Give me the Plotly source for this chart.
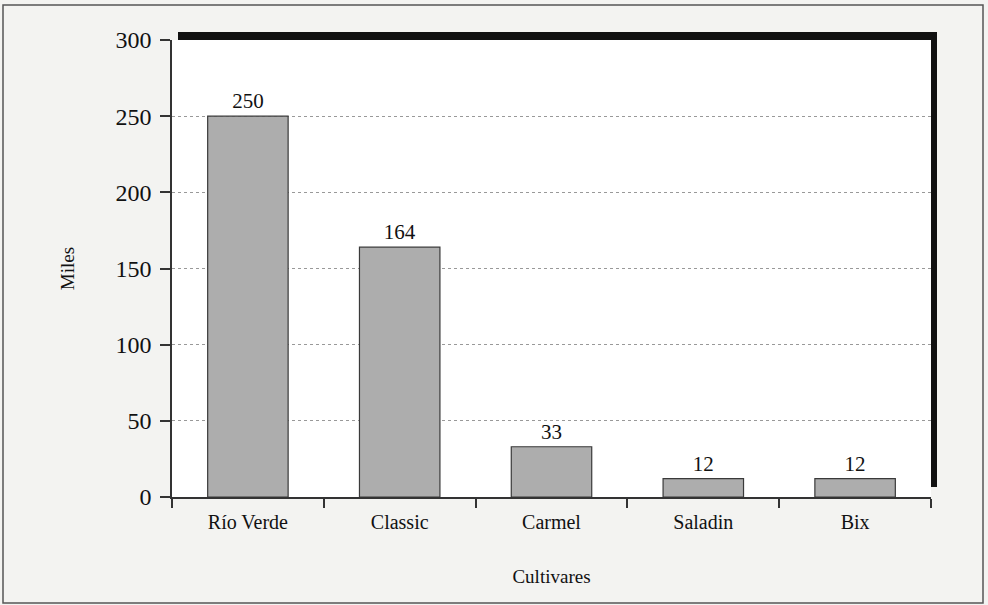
import plotly.graph_objects as go

categories = ["Río Verde", "Classic", "Carmel", "Saladin", "Bix"]
values = [250, 164, 33, 12, 12]
y_ticks = [0, 50, 100, 150, 200, 250, 300]

W, H = 988, 605
L, R, T, B = 172, 57, 40, 108
font_family = "Liberation Serif, Times New Roman, serif"

fig = go.Figure(go.Bar(
    x=categories, y=values,
    marker=dict(color="#adadad", line=dict(color="#3a3a3a", width=1.2)),
    text=[str(v) for v in values], textposition="outside",
    textfont=dict(family=font_family, size=21, color="#111"),
    cliponaxis=False, width=0.53,
))

pl, pr, pt, pb = L, W - R, T, H - B
pw, ph = pr - pl, pb - pt
shapes = [
    # outer frame
    dict(type="rect", xref="paper", yref="paper",
         x0=(3 - pl) / pw, x1=(983 - pl) / pw,
         y0=(pb - 603) / ph, y1=(pb - 5) / ph,
         line=dict(color="#555", width=1.5), fillcolor="rgba(0,0,0,0)", layer="below"),
    # shadow top bar
    dict(type="rect", xref="paper", yref="paper",
         x0=(178 - pl) / pw, x1=(937 - pl) / pw,
         y0=1.0, y1=(pb - 32) / ph,
         line=dict(width=0), fillcolor="#111"),
    # shadow right bar
    dict(type="rect", xref="paper", yref="paper",
         x0=1.0, x1=(937 - pl) / pw,
         y0=(pb - 487) / ph, y1=(pb - 32) / ph,
         line=dict(width=0), fillcolor="#111"),
]

fig.update_layout(
    width=W, height=H,
    margin=dict(l=L, r=R, t=T, b=B, autoexpand=False),
    paper_bgcolor="#f3f3f1", plot_bgcolor="#ffffff",
    font=dict(family=font_family, color="#111"),
    showlegend=False,
    shapes=shapes,
    xaxis=dict(
        title=dict(text="Cultivares", font=dict(size=19), standoff=38),
        tickfont=dict(size=20), ticklabelstandoff=6,
        showline=True, linecolor="#333", linewidth=1.5,
        ticks="outside", tickson="boundaries", ticklen=9, tickcolor="#333", tickwidth=1.5,
        showgrid=False,
    ),
    yaxis=dict(
        title=dict(text="Miles", font=dict(size=19), standoff=36),
        range=[0, 300], tickvals=y_ticks, tickfont=dict(size=24), ticklabelstandoff=4,
        showline=True, linecolor="#333", linewidth=1.5,
        ticks="outside", ticklen=10, tickcolor="#333", tickwidth=1.5,
        showgrid=True, gridcolor="#999999", gridwidth=1, griddash="dot",
        zeroline=False,
    ),
)

fig.write_html("out.html", config={"displayModeBar": False},
               post_script="document.body.style.margin='0';document.body.style.padding='0';")
